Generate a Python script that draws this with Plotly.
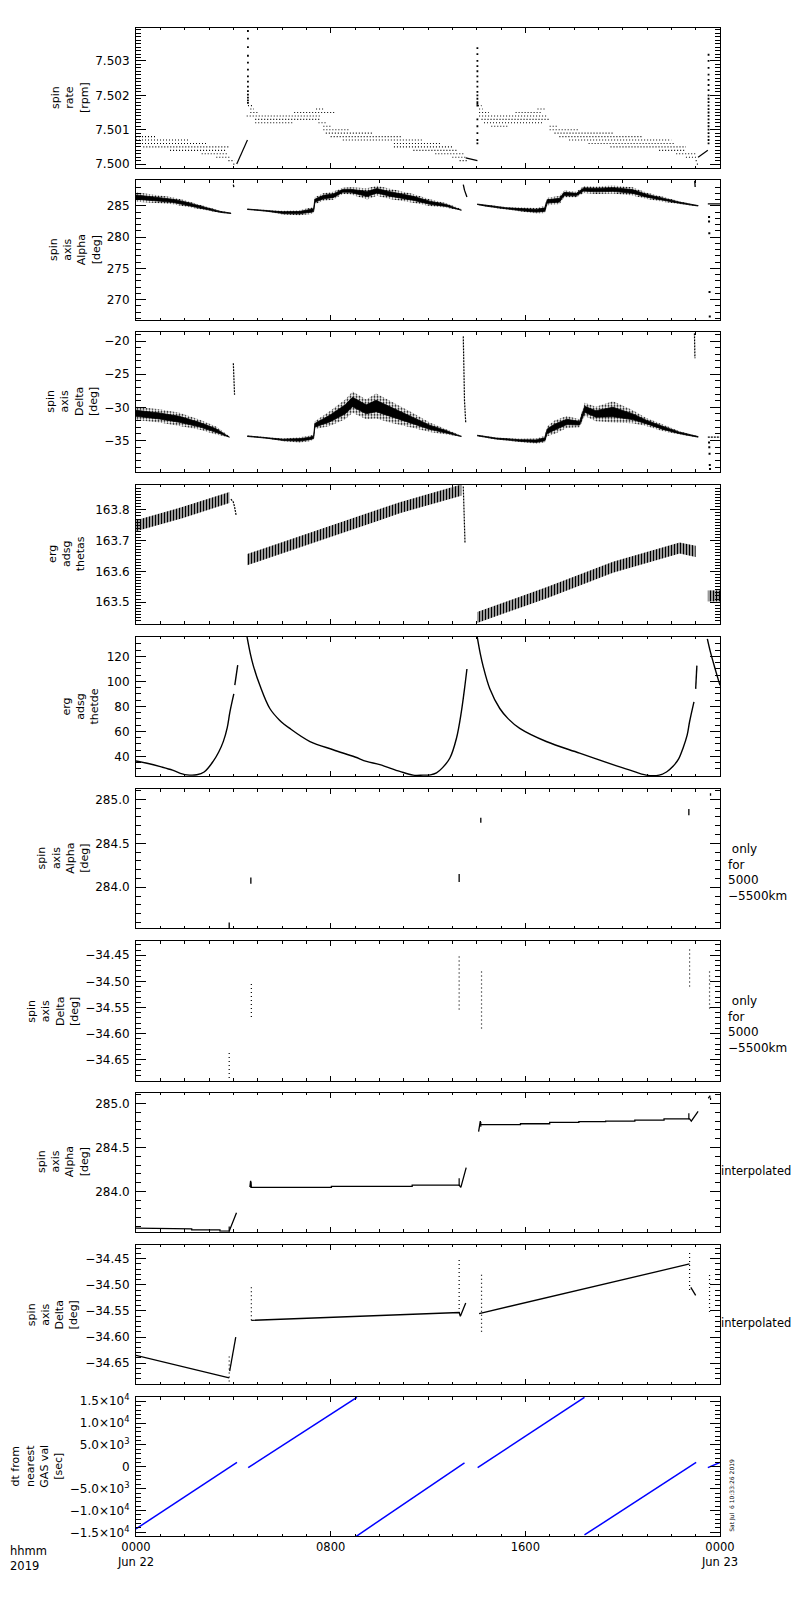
import plotly.graph_objects as go

# time axis: hours after 0000 UT on 22 Jun 2019
DAY_TICKS = [0, 8, 16, 24]
DAY_TICK_TEXT = ["0000<br>Jun 22", "0800", "1600", "0000<br>Jun 23"]

# panel 1: spin rate [rpm], quantised levels (start hour, end hour, level)
RATE_LEVEL_START = [0.0, 0.0, 0.0, 0.3, 1.4, 2.7, 3.3, 3.8, 4.0,
                    4.6, 4.7, 4.7, 6.5, 7.4, 4.55, 4.9, 4.9, 7.5, 7.7, 7.7, 7.8,
                    8.0, 8.5, 10.6, 10.6, 11.4, 12.3, 13.0, 13.3,
                    14.05, 14.1, 14.1, 15.6, 16.5, 14.1, 14.2, 14.3, 14.6, 17.0,
                    17.0, 17.2, 17.4, 17.8, 18.6, 19.5, 21.5, 22.2, 22.6, 23.0, 23.05]
RATE_LEVEL_END = [0.85, 2.2, 2.96, 3.8, 3.72, 3.8, 3.85, 4.05, 4.1,
                  4.8, 4.85, 5.0, 8.2, 7.7, 7.55, 7.6, 6.5, 7.8, 8.0, 8.8, 9.7,
                  10.9, 11.8, 12.5, 13.0, 13.2, 13.5, 13.6, 13.6,
                  14.2, 14.25, 14.5, 16.7, 16.8, 16.9, 17.0, 16.7, 15.3, 17.3,
                  18.2, 19.6, 20.8, 22.0, 22.1, 22.6, 22.6, 23.0, 23.1, 23.1, 23.1]
RATE_LEVEL = [7.5008, 7.5007, 7.5006, 7.5005, 7.5004, 7.5003, 7.5002, 7.5001, 7.5000,
              7.5017, 7.5016, 7.5015, 7.5015, 7.5016, 7.5014, 7.5013, 7.5012, 7.5012,
              7.5011, 7.5010, 7.5009, 7.5008, 7.5007, 7.5006, 7.5005, 7.5004, 7.5003,
              7.5002, 7.5001,
              7.5017, 7.5016, 7.5015, 7.5015, 7.5016, 7.5014, 7.5013, 7.5012, 7.5011,
              7.5011, 7.5010, 7.5009, 7.5008, 7.5007, 7.5006, 7.5005, 7.5004, 7.5003,
              7.5002, 7.5001, 7.5000]
RATE_RAMP_T = [[4.14, 4.58], [13.55, 14.03], [23.1, 23.5]]
RATE_RAMP_V = [[7.5000, 7.5007], [7.50018, 7.5001], [7.5002, 7.5004]]
RATE_SPIKE_T = [4.6, 14.03, 23.53]
RATE_SPIKE_V = [
    [7.50387, 7.50365, 7.5034, 7.50315, 7.50295, 7.50275, 7.50255, 7.5024,
     7.50225, 7.50212, 7.50202, 7.50193, 7.50185, 7.50178],
    [7.50337, 7.5032, 7.503, 7.50285, 7.5027, 7.50255, 7.5024, 7.50225, 7.5021,
     7.502, 7.5019, 7.5018, 7.50175, 7.5017, 7.5013, 7.5011, 7.5009, 7.5007, 7.5006],
    [7.50318, 7.503, 7.5028, 7.5026, 7.50245, 7.5023, 7.50215, 7.502, 7.5019,
     7.5018, 7.5017, 7.5016, 7.5015, 7.5014, 7.5013, 7.5012, 7.5011, 7.501,
     7.5009, 7.5008, 7.5007, 7.5006],
]

# panel 2: spin axis alpha [deg], band centre and half width per pass
ALPHA_T = [
    [0, 0.5, 1.0, 1.5, 2.0, 2.5, 3.0, 3.5, 3.9],
    [4.57, 5.36, 6.04, 6.7, 7.2, 7.3, 7.35, 7.7, 8.1, 8.5, 8.8, 9.5, 9.9, 10.43,
     11.39, 12.07, 12.76, 13.37],
    [14.02, 14.4, 15.2, 15.77, 16.45, 16.8, 16.9, 17.4, 17.6, 18.1, 18.4, 18.9,
     19.6, 20.4, 21.0, 21.7, 22.4, 23.1],
]
ALPHA_C = [
    [286.4, 286.2, 286.0, 285.8, 285.45, 285.0, 284.45, 284.0, 283.8],
    [284.45, 284.2, 283.9, 283.9, 284.2, 284.3, 285.8, 286.4, 286.6, 287.4, 287.4,
     286.9, 287.4, 286.9, 286.2, 285.5, 285.05, 284.35],
    [285.25, 285.0, 284.6, 284.4, 284.2, 284.4, 285.7, 285.9, 286.9, 286.8, 287.6,
     287.5, 287.6, 287.3, 286.6, 286.0, 285.45, 285.0],
]
ALPHA_H = [
    [0.75, 0.65, 0.6, 0.55, 0.45, 0.35, 0.25, 0.15, 0.08],
    [0.08, 0.12, 0.3, 0.4, 0.5, 0.5, 0.55, 0.6, 0.65, 0.5, 0.55, 0.9, 0.8, 0.8,
     0.7, 0.55, 0.35, 0.12],
    [0.08, 0.15, 0.2, 0.35, 0.45, 0.6, 0.6, 0.65, 0.55, 0.45, 0.55, 0.6, 0.65,
     0.65, 0.5, 0.4, 0.2, 0.08],
]
ALPHA_SPIKE_T = [[4.0, 4.02], [13.45, 13.5, 13.6], [22.96, 22.98], [23.5, 24.0]]
ALPHA_SPIKE_V = [[288.4, 288.0], [288.4, 287.5, 286.4], [289.0, 288.0], [285.3, 285.3]]
ALPHA_DOT_T = [23.55, 23.55, 23.56, 23.57, 23.58]
ALPHA_DOT_V = [283.2, 282.5, 280.6, 271.2, 267.3]

# panel 3: spin axis delta [deg]
DELTA_T = [
    [0, 0.96, 1.78, 2.6, 3.29, 3.84],
    [4.57, 5.36, 6.04, 6.72, 7.13, 7.3, 7.35, 7.96, 8.6, 8.9, 9.46, 9.87, 10.55,
     11.4, 12.07, 12.76, 13.37],
    [14.02, 14.8, 15.77, 16.45, 16.8, 16.9, 17.2, 17.7, 18.23, 18.44, 18.9, 19.6,
     20.4, 20.97, 21.66, 22.34, 23.1],
]
DELTA_C = [
    [-30.9, -31.3, -31.8, -32.6, -33.5, -34.45],
    [-34.35, -34.6, -34.9, -34.9, -34.7, -34.5, -32.7, -31.7, -30.3, -29.2, -30.3,
     -29.8, -30.8, -32.0, -33.0, -33.7, -34.35],
    [-34.25, -34.7, -35.0, -35.1, -34.8, -33.6, -33.0, -32.2, -32.4, -30.3, -31.0,
     -30.7, -31.4, -32.2, -33.1, -33.85, -34.45],
]
DELTA_H = [
    [1.0, 1.0, 1.0, 0.75, 0.6, 0.1],
    [0.1, 0.1, 0.2, 0.4, 0.4, 0.4, 0.6, 1.1, 1.5, 1.6, 1.5, 1.9, 1.6, 1.1, 0.7,
     0.4, 0.1],
    [0.1, 0.15, 0.25, 0.4, 0.5, 0.75, 1.0, 0.9, 0.6, 1.0, 1.1, 1.6, 1.0, 0.6, 0.5,
     0.25, 0.1],
]
DELTA_SPIKE_T = [[4.0, 4.02, 4.05], [13.45, 13.47, 13.5, 13.55], [22.95, 22.97], [23.5, 24.0]]
DELTA_SPIKE_V = [[-23.35, -26.0, -28.1], [-19.3, -24.0, -29.0, -32.3], [-18.85, -22.6],
                 [-34.5, -34.5]]
DELTA_DOT_T = [23.55, 23.56, 23.57, 23.58, 23.59]
DELTA_DOT_V = [-35.3, -36.0, -37.0, -38.7, -39.3]

# panel 4: erg adsg thetas
THETAS_T = [[0, 1.9, 3.84], [4.57, 10.02, 10.84, 13.37],
            [14.02, 16.86, 19.6, 22.34, 23.0], [23.5, 24.0]]
THETAS_C = [[163.748, 163.791, 163.84], [163.638, 163.784, 163.807, 163.864],
            [163.45, 163.53, 163.613, 163.676, 163.665], [163.52, 163.52]]
THETAS_HALF = [0.018, 0.018, 0.018, 0.018]
THETAS_DROP_T = [[3.9, 4.0, 4.05, 4.12], [13.45, 13.47, 13.5, 13.52]]
THETAS_DROP_V = [[163.835, 163.825, 163.81, 163.78], [163.876, 163.82, 163.75, 163.694]]

# panel 5: erg adsg thetde
THETDE_T = [
    [0, 0.5, 1.0, 1.5, 1.9, 2.1, 2.5, 2.8, 3.17, 3.4, 3.59, 3.75, 3.86, 4.02],
    [4.06, 4.18],
    [4.55, 4.7, 4.82, 5.09, 5.5, 5.9, 6.32, 7.15, 8.1, 9.0, 9.47, 10.02, 10.84,
     11.39, 11.8, 12.1, 12.35, 12.6, 12.9, 13.17, 13.37, 13.5, 13.6],
    [14.01, 14.15, 14.26, 14.54, 14.95, 15.3, 15.77, 16.86, 18.23, 19.6, 20.3,
     20.97, 21.5, 21.8, 22.07, 22.3, 22.48, 22.65, 22.75, 22.93],
    [23.0, 23.05],
    [23.48, 23.6, 23.8, 24.0],
]
THETDE_V = [
    [36.3, 34.3, 31.8, 29.0, 26.0, 25.2, 25.3, 27.5, 36, 43.5, 52, 63, 75.6, 90],
    [97, 113],
    [137, 122, 112.6, 96.8, 78.3, 69, 62.4, 51.9, 45.3, 39.5, 36, 33.4, 28, 25, 25,
     25.2, 26.8, 31, 38.7, 54.5, 75.6, 94, 109.9],
    [137, 122, 112.6, 94.1, 78.3, 70, 62.4, 51.9, 42.6, 33.4, 29, 25, 25, 27.5,
     32.1, 38, 46.6, 57, 67.7, 83.6],
    [94, 112.6],
    [134, 124, 110, 96.8],
]

# panel 6: alpha, only for 5000-5500 km (short marks: hour, low, high)
ALT_ALPHA_T = [3.83, 4.72, 13.28, 14.17, 22.72, 23.61]
ALT_ALPHA_LO = [283.53, 284.04, 284.06, 284.735, 284.82, 285.04]
ALT_ALPHA_HI = [283.60, 284.11, 284.15, 284.79, 284.89, 285.07]

# panel 7: delta, only for 5000-5500 km
ALT_DELTA_T = [3.83, 4.74, 13.28, 14.2, 22.75, 23.57]
ALT_DELTA_LO = [-34.685, -34.568, -34.554, -34.59, -34.51, -34.552]
ALT_DELTA_HI = [-34.634, -34.501, -34.45, -34.479, -34.437, -34.479]

# panel 8: alpha interpolated
INT_ALPHA_T = [
    [0, 1.19, 1.19, 2.29, 2.29, 3.45, 3.45, 3.83, 4.13],
    [4.68, 4.71, 4.74, 8.03, 8.03, 11.35, 11.35, 13.28, 13.35, 13.57],
    [14.08, 14.15, 14.15, 15.8, 15.8, 17.0, 17.0, 18.2, 18.2, 19.3, 19.3, 20.5,
     20.5, 21.7, 21.7, 22.75, 22.82, 23.1],
    [23.52, 23.6],
]
INT_ALPHA_V = [
    [283.581, 283.581, 283.573, 283.573, 283.562, 283.562, 283.547, 283.547, 283.757],
    [284.05, 284.12, 284.045, 284.045, 284.057, 284.057, 284.07, 284.07, 284.045, 284.27],
    [284.68, 284.8, 284.76, 284.76, 284.77, 284.77, 284.785, 284.785, 284.795,
     284.795, 284.8, 284.8, 284.81, 284.81, 284.825, 284.825, 284.80, 284.91],
    [285.06, 285.09],
]

# panel 9: delta interpolated
INT_DELTA_T = [[0, 3.83], [3.85, 4.1], [4.74, 13.28, 13.33, 13.55],
               [14.1, 22.75], [22.8, 23.0]]
INT_DELTA_V = [[-34.635, -34.678], [-34.665, -34.60], [-34.568, -34.553, -34.56, -34.535],
               [-34.555, -34.46], [-34.505, -34.52]]

# panel 10: dt from nearest GAS value [sec], one line per nearest value
DT_T0 = [0.0, 4.61, 9.05, 14.04, 18.43, 23.5]
DT_T1 = [4.15, 9.08, 13.5, 18.43, 23.02, 24.0]
DT_V0 = [-14210, -200, -15900, -200, -15600, -200]
DT_V1 = [1000, 15900, 900, 15900, 1000, 1000]
DT_TICKS = [-15000, -10000, -5000, 0, 5000, 10000, 15000]
DT_TICK_TEXT = ["\u22121.5\u00d710<sup>4</sup>", "\u22121.0\u00d710<sup>4</sup>",
                "\u22125.0\u00d710<sup>3</sup>", "0", "5.0\u00d710<sup>3</sup>",
                "1.0\u00d710<sup>4</sup>", "1.5\u00d710<sup>4</sup>"]

ALPHA_TITLE = "spin<br>axis<br>Alpha<br>[deg]"
DELTA_TITLE = "spin<br>axis<br>Delta<br>[deg]"
PANEL_TITLES = ["spin<br>rate<br>[rpm]", ALPHA_TITLE, DELTA_TITLE,
                "erg<br>adsg<br>thetas", "erg<br>adsg<br>thetde",
                ALPHA_TITLE, DELTA_TITLE, ALPHA_TITLE, DELTA_TITLE,
                "dt from<br>nearest<br>GAS val<br>[sec]"]

# layout, in page pixels; the page body adds an 8 px margin
PAGE = 8
W, H = 800 - PAGE, 1600 - PAGE
X0, X1 = 136, 720
TOPS = [23, 176, 329, 482, 635, 788, 941, 1093, 1246, 1399]
BOTS = [164, 317, 469, 622, 775, 928, 1081, 1233, 1386, 1539]
TITLE_X = [70, 75, 72, 67, 81, 63, 53, 63, 53, 37]

Y_AXES = [
    dict(range=[7.49988, 7.50396], tick0=7.5, dtick=0.001, tickformat=".3f", minor=0.0001),
    dict(range=[266.67, 289.1], tick0=270, dtick=5, tickformat="d", minor=1),
    dict(range=[-39.7, -18.7], tick0=-35, dtick=5, tickformat="d", minor=1),
    dict(range=[163.429, 163.882], tick0=163.5, dtick=0.1, tickformat=".1f", minor=0.01),
    dict(range=[24.2, 135.6], tick0=40, dtick=20, tickformat="d", minor=5),
    dict(range=[283.532, 285.117], tick0=284, dtick=0.5, tickformat=".1f", minor=0.1),
    dict(range=[-34.690, -34.4233], tick0=-34.65, dtick=0.05, tickformat=".2f", minor=0.01),
    dict(range=[283.539, 285.125], tick0=284, dtick=0.5, tickformat=".1f", minor=0.1),
    dict(range=[-34.690, -34.4233], tick0=-34.65, dtick=0.05, tickformat=".2f", minor=0.01),
    dict(range=[-15909, 15977], minor=1000),
]

FONT = "DejaVu Sans"
fig = go.Figure()


def axes(i):
    return ("x" if i == 1 else f"x{i}"), ("y" if i == 1 else f"y{i}")


def line(i, x, y, color="black", width=1.3, dash="solid", shape="linear"):
    xa, ya = axes(i)
    fig.add_trace(go.Scatter(x=x, y=y, mode="lines", xaxis=xa, yaxis=ya,
                             line=dict(color=color, width=width, dash=dash, shape=shape),
                             showlegend=False, hoverinfo="skip"))


def dots(i, x, y, size=2):
    xa, ya = axes(i)
    fig.add_trace(go.Scatter(x=x, y=y, mode="markers", xaxis=xa, yaxis=ya,
                             marker=dict(color="black", size=size, symbol="square"),
                             showlegend=False, hoverinfo="skip"))


def band(i, t, c, h, pattern=None, scale=1.0):
    xa, ya = axes(i)
    up = [a + b * scale for a, b in zip(c, h)]
    lo = [a - b * scale for a, b in zip(c, h)]
    kw = dict(fillcolor="black")
    width = 0.8
    if pattern:
        width = 0
        kw = dict(fillcolor="rgba(0,0,0,0)",
                  fillpattern=dict(shape=pattern[0], size=pattern[1], solidity=pattern[2],
                                   fgcolor="black", bgcolor="rgba(0,0,0,0)",
                                   fillmode="replace"))
    fig.add_trace(go.Scatter(x=list(t) + list(t)[::-1], y=up + lo[::-1], mode="lines",
                             fill="toself", xaxis=xa, yaxis=ya,
                             line=dict(color="black", width=width),
                             showlegend=False, hoverinfo="skip", **kw))


# panel 1
xs, ys = [], []
for t0, t1, v in zip(RATE_LEVEL_START, RATE_LEVEL_END, RATE_LEVEL):
    xs += [t0, t1, None]
    ys += [v, v, None]
line(1, xs, ys, width=1.1, dash="1px,2px")
for t, v in zip(RATE_RAMP_T, RATE_RAMP_V):
    line(1, t, v, width=1.2)
for t, vals in zip(RATE_SPIKE_T, RATE_SPIKE_V):
    dots(1, [t] * len(vals), vals, size=1.8)

# panels 2 and 3
for t, c, h in zip(ALPHA_T, ALPHA_C, ALPHA_H):
    band(2, t, c, h, pattern=(".", 3, 0.35))
    band(2, t, c, h, scale=0.45)
for t, v in zip(ALPHA_SPIKE_T, ALPHA_SPIKE_V):
    line(2, t, v, width=1.3)
dots(2, ALPHA_DOT_T, ALPHA_DOT_V)

for t, c, h in zip(DELTA_T, DELTA_C, DELTA_H):
    band(3, t, c, h, pattern=(".", 3, 0.35))
    band(3, t, c, h, scale=0.45)
for t, v in zip(DELTA_SPIKE_T, DELTA_SPIKE_V):
    line(3, t, v, width=1.2, dash="2px,1px")
dots(3, DELTA_DOT_T, DELTA_DOT_V)

# panel 4
for t, c, hw in zip(THETAS_T, THETAS_C, THETAS_HALF):
    band(4, t, c, [hw] * len(t), pattern=("|", 3, 0.6))
for t, v in zip(THETAS_DROP_T, THETAS_DROP_V):
    line(4, t, v, width=1.2, dash="2px,1px")

# panel 5
for t, v in zip(THETDE_T, THETDE_V):
    line(5, t, v, width=1.4, shape="spline")

# panels 6 and 7
for t, lo, hi in zip(ALT_ALPHA_T, ALT_ALPHA_LO, ALT_ALPHA_HI):
    line(6, [t, t], [lo, hi], width=1.3)
for t, lo, hi in zip(ALT_DELTA_T, ALT_DELTA_LO, ALT_DELTA_HI):
    line(7, [t, t], [lo, hi], width=1.2, dash="1px,3px")

# panels 8 and 9
for t, v in zip(INT_ALPHA_T, INT_ALPHA_V):
    line(8, t, v, width=1.3)
for t, lo, hi in zip(ALT_ALPHA_T, ALT_ALPHA_LO, ALT_ALPHA_HI):
    line(8, [t, t], [lo, hi], width=1.2)
for t, v in zip(INT_DELTA_T, INT_DELTA_V):
    line(9, t, v, width=1.3)
for t, lo, hi in zip(ALT_DELTA_T, ALT_DELTA_LO, ALT_DELTA_HI):
    line(9, [t, t], [lo, hi], width=1.2, dash="1px,3px")

# panel 10
for t0, t1, v0, v1 in zip(DT_T0, DT_T1, DT_V0, DT_V1):
    line(10, [t0, t1], [v0, v1], color="blue", width=1.5)

layout = dict(width=W, height=H, plot_bgcolor="white", paper_bgcolor="white",
              margin=dict(l=X0 - PAGE, r=W - (X1 - PAGE), t=0, b=0),
              font=dict(family=FONT, size=12, color="black"), showlegend=False)

for i in range(1, 11):
    top, bot = TOPS[i - 1] - PAGE, BOTS[i - 1] - PAGE
    xkey = "xaxis" if i == 1 else f"xaxis{i}"
    ykey = "yaxis" if i == 1 else f"yaxis{i}"
    xa, ya = axes(i)
    layout[xkey] = dict(domain=[0, 1], anchor=ya, range=[0, 24], showline=True,
                        linecolor="black", linewidth=1, mirror="ticks", ticks="inside",
                        ticklen=5, tickcolor="black", tickmode="array", tickvals=DAY_TICKS,
                        ticktext=DAY_TICK_TEXT, showticklabels=(i == 10),
                        tickfont=dict(size=11.5), showgrid=False, zeroline=False,
                        minor=dict(ticks="inside", ticklen=2.5, tickcolor="black",
                                   tickmode="linear", tick0=0, dtick=1))
    spec = Y_AXES[i - 1]
    yd = dict(domain=[1 - bot / H, 1 - top / H], anchor=xa, range=spec["range"],
              showline=True, linecolor="black", linewidth=1, mirror="ticks",
              ticks="inside", ticklen=10, tickcolor="black", showgrid=False,
              zeroline=False, tickfont=dict(size=12), ticklabelstandoff=3,
              minor=dict(ticks="inside", ticklen=5, tickcolor="black",
                         tickmode="linear", tick0=0, dtick=spec["minor"]))
    if i == 10:
        yd.update(tickmode="array", tickvals=DT_TICKS, ticktext=DT_TICK_TEXT)
    else:
        yd.update(tickmode="linear", tick0=spec["tick0"], dtick=spec["dtick"],
                  tickformat=spec["tickformat"])
    layout[ykey] = yd

fig.update_layout(**layout)


def px_x(p):
    return (p - X0) / (X1 - X0)


def px_y(p):
    return 1 - (p - PAGE) / H


for i, title in enumerate(PANEL_TITLES):
    fig.add_annotation(text=title, textangle=-90, xref="paper", yref="paper",
                       x=px_x(TITLE_X[i]), y=px_y((TOPS[i] + BOTS[i]) / 2),
                       xanchor="center", yanchor="middle", showarrow=False,
                       font=dict(size=11))

for i in (5, 6):
    fig.add_annotation(text="\u00a0only<br>for<br>5000<br>\u22125500km", align="left",
                       xref="paper", yref="paper", x=px_x(726),
                       y=px_y((TOPS[i] + BOTS[i]) / 2 + 14),
                       xanchor="left", yanchor="middle", showarrow=False,
                       font=dict(size=12))
for i in (7, 8):
    fig.add_annotation(text="interpolated", xref="paper", yref="paper",
                       x=px_x(719), y=px_y((TOPS[i] + BOTS[i]) / 2 + 9),
                       xanchor="left", yanchor="middle", showarrow=False,
                       font=dict(size=11.5))

fig.add_annotation(text="hhmm<br>2019", align="left", xref="paper", yref="paper",
                   x=px_x(8), y=px_y(1545), xanchor="left", yanchor="top",
                   showarrow=False, font=dict(size=11.5))
fig.add_annotation(text="Sat Jul  6 10:33:26 2019", textangle=-90, xref="paper",
                   yref="paper", x=px_x(726), y=px_y(1537), xanchor="left",
                   yanchor="bottom", showarrow=False, font=dict(size=6))

fig.write_html("out.html")
